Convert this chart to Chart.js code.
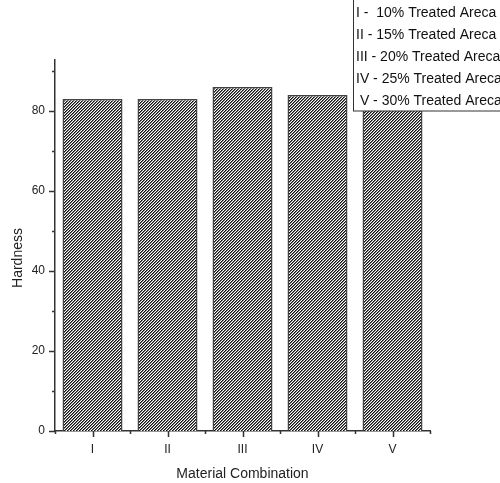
<!DOCTYPE html>
<html>
<head>
<meta charset="utf-8">
<script src="https://cdn.jsdelivr.net/npm/chart.js@4.4.1/dist/chart.umd.min.js"></script>
<style>
  body { margin: 0; background: #fff; }
  #wrap { width: 500px; height: 483px; position: relative; }
</style>
</head>
<body>
<div id="wrap"><canvas id="myChart"></canvas></div>
<script>
// data
const categories = ['I', 'II', 'III', 'IV', 'V'];
const hardness = [83, 83, 86, 84, 83];
const yMajorTicks = [0, 20, 40, 60, 80];
const yMinorTicks = [10, 30, 50, 70, 90];
const legendLines = [
    'I -  10% Treated Areca',
    'II - 15% Treated Areca',
    'III - 20% Treated Areca',
    'IV - 25% Treated Areca',
    ' V - 30% Treated Areca'
];
const xTitle = 'Material Combination';
const yTitle = 'Hardness';

// hatch "/" fill like the original
function makeHatch() {
    const c = document.createElement('canvas');
    c.width = 3;
    c.height = 3;
    const g = c.getContext('2d');
    g.fillStyle = '#fff';
    g.fillRect(0, 0, 3, 3);
    for (let x = 0; x < 3; x++) {
        g.fillStyle = '#111';
        g.fillRect(x, 2 - x, 1, 1);
        g.fillStyle = '#777';
        g.fillRect(x, (3 - x) % 3, 1, 1);
    }
    return g.createPattern(c, 'repeat');
}

const FONT = "'Liberation Sans', Arial, sans-serif";

// ticks, axis titles and the text box
const extras = {
    id: 'extras',
    afterDraw(chart) {
        const ctx = chart.ctx;
        const x = chart.scales.x;
        const y = chart.scales.y;
        const area = chart.chartArea;
        ctx.save();
        ctx.strokeStyle = '#333';
        ctx.lineWidth = 1.5;
        ctx.beginPath();
        yMajorTicks.forEach(v => {
            const py = Math.round(y.getPixelForValue(v)) + 0.5;
            ctx.moveTo(area.left - 6, py);
            ctx.lineTo(area.left, py);
        });
        yMinorTicks.forEach(v => {
            const py = Math.round(y.getPixelForValue(v)) + 0.5;
            ctx.moveTo(area.left - 3, py);
            ctx.lineTo(area.left, py);
        });
        categories.forEach((c, i) => {
            const px = Math.round(x.getPixelForValue(i)) + 0.5;
            ctx.moveTo(px, area.bottom);
            ctx.lineTo(px, area.bottom + 6);
        });
        for (let i = 0; i <= categories.length; i++) {
            const px = Math.round(x.getPixelForValue(i - 0.5)) + 0.5;
            ctx.moveTo(px, area.bottom);
            ctx.lineTo(px, area.bottom + 3);
        }
        ctx.stroke();

        ctx.fillStyle = '#222';
        ctx.font = '14px ' + FONT;
        ctx.textAlign = 'center';
        ctx.textBaseline = 'middle';
        ctx.fillText(xTitle, (area.left + area.right) / 2, 474);
        ctx.save();
        ctx.translate(18, 258);
        ctx.rotate(-Math.PI / 2);
        ctx.fillText(yTitle, 0, 0);
        ctx.restore();

        // legend box
        ctx.fillStyle = '#fff';
        ctx.fillRect(353, -2, 160, 113);
        ctx.lineWidth = 1;
        ctx.strokeStyle = '#333';
        ctx.strokeRect(353.5, -2, 160, 113);
        ctx.fillStyle = '#111';
        ctx.textAlign = 'left';
        legendLines.forEach((t, i) => {
            ctx.fillText(t, 356, 13 + i * 22);
        });
        ctx.restore();
    }
};

const data = {
    labels: categories,
    datasets: [{
        label: yTitle,
        data: hardness,
        backgroundColor: makeHatch(),
        borderColor: '#444',
        borderWidth: 1.5,
        categoryPercentage: 0.8,
        barPercentage: 1.0
    }]
};

const config = {
    type: 'bar',
    data: data,
    options: {
        responsive: true,
        maintainAspectRatio: false,
        animation: false,
        layout: { padding: { left: 0, right: 70, top: 60, bottom: 0 } },
        plugins: {
            legend: { display: false },
            tooltip: { enabled: false }
        },
        scales: {
            x: {
                grid: { display: false },
                border: { display: true, color: '#333', width: 1.5 },
                ticks: { color: '#222', font: { family: FONT, size: 12 }, padding: 3 },
                afterFit: s => { s.height = 52; }
            },
            y: {
                min: 0,
                max: 92.75,
                grid: { display: false },
                border: { display: true, color: '#333', width: 1.5 },
                ticks: { color: '#222', font: { family: FONT, size: 12 }, padding: 2 },
                afterBuildTicks: s => { s.ticks = yMajorTicks.map(v => ({ value: v })); },
                afterFit: s => { s.width = 55; }
            }
        }
    },
    plugins: [extras]
};

const myChart = new Chart(document.getElementById('myChart'), config);
</script>
</body>
</html>
